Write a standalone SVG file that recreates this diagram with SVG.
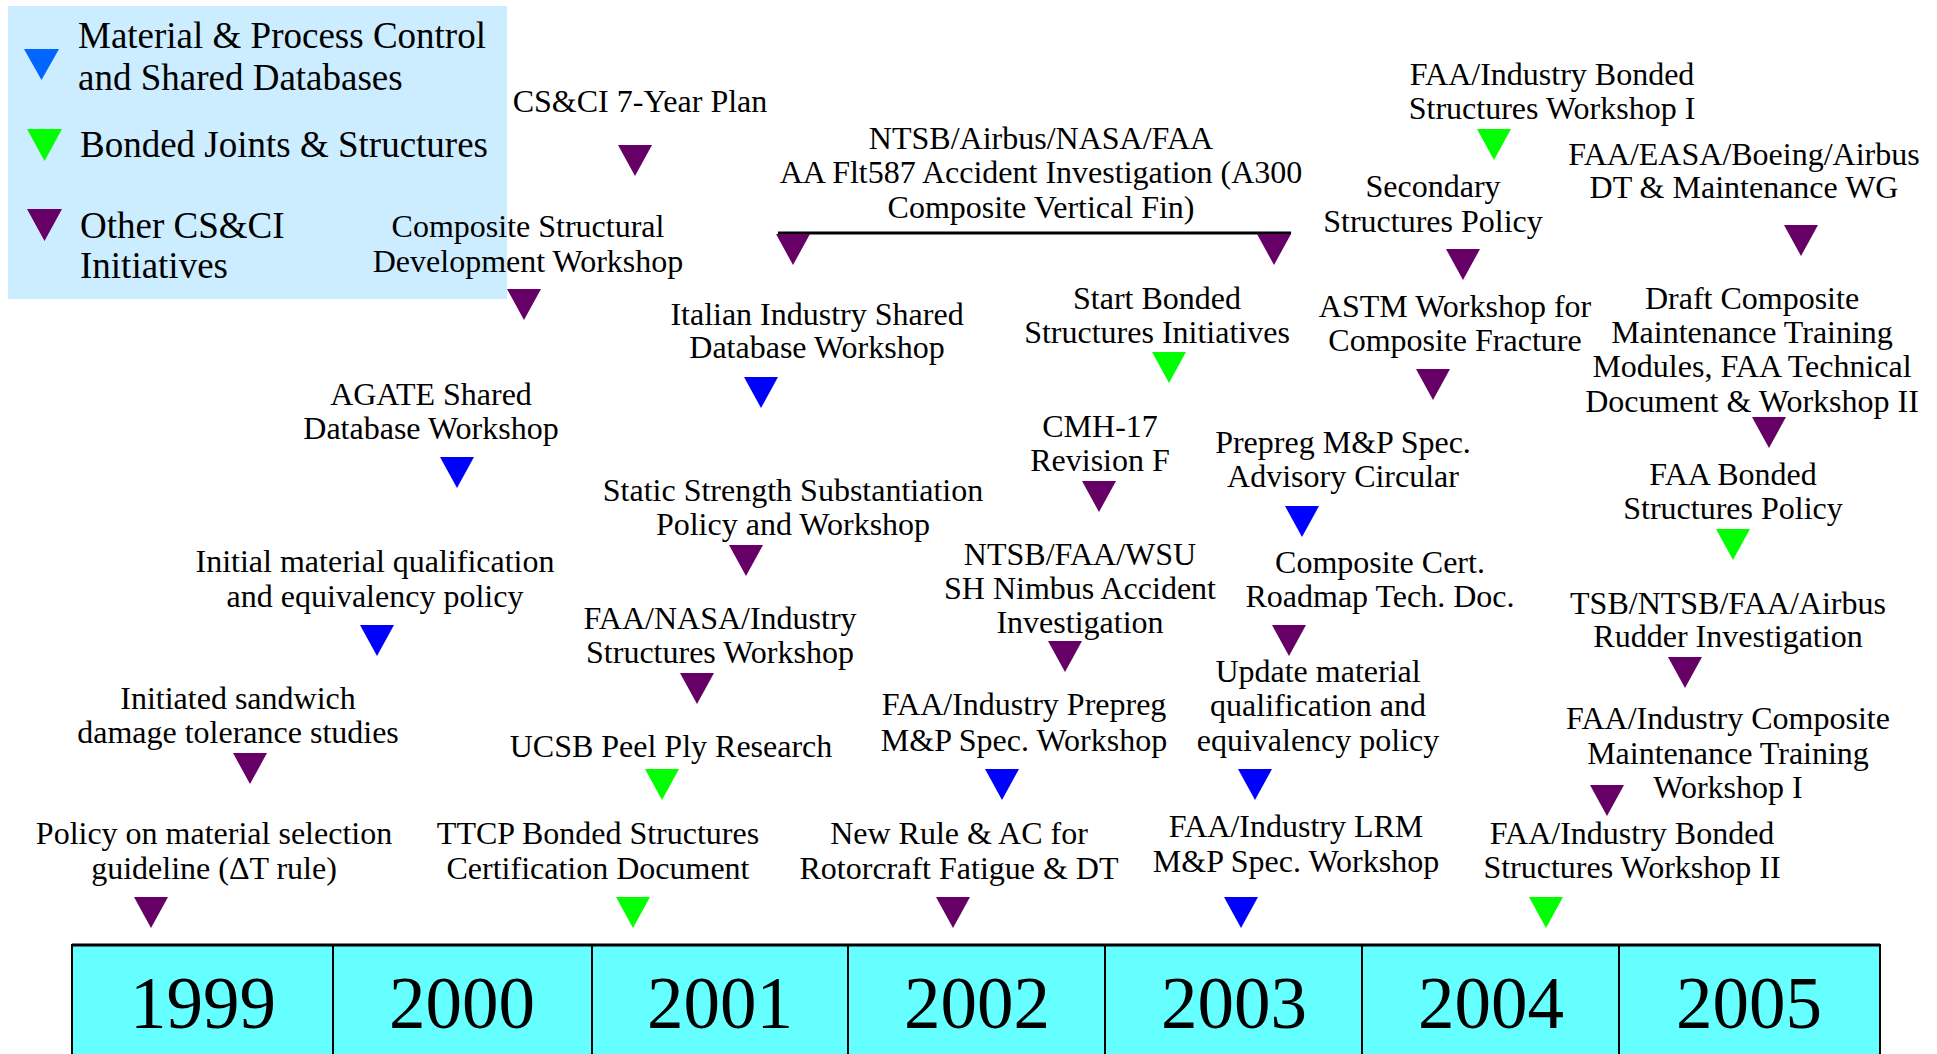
<svg xmlns="http://www.w3.org/2000/svg" width="1937" height="1054" viewBox="0 0 1937 1054">
<style>
text{font-family:"Liberation Serif","Times New Roman",serif;fill:#000}
.l{font-size:32px;text-anchor:middle}
.lg{font-size:37px}
.yr{font-size:73px;text-anchor:middle}
.p{fill:#660066}
.b{fill:#0000FF}
.g{fill:#00FF00}
.lb{fill:#0066FF}
.cell{fill:#66FFFF;stroke:#000;stroke-width:2}
</style>
<defs>
<path id="tri" d="M-17,0 L17,0 L0,31 Z"/>
</defs>
<rect width="1937" height="1054" fill="#fff"/>

<g id="legend">
<rect x="8" y="6" width="499" height="293" fill="#CCECFF"/>
<path class="lb" d="M24,49 L59,49 L41.5,80 Z"/>
<path class="g" d="M27,129 L62,129 L44.5,161 Z"/>
<path class="p" d="M27,209 L62,209 L44.5,241 Z"/>
<text class="lg" x="78" y="48">Material &amp; Process Control</text>
<text class="lg" x="78" y="90">and Shared Databases</text>
<text class="lg" x="80" y="157">Bonded Joints &amp; Structures</text>
<text class="lg" x="80" y="238">Other CS&amp;CI</text>
<text class="lg" x="80" y="278">Initiatives</text>
</g>

<g id="connectors">
<line x1="778" y1="233" x2="1291" y2="233" stroke="#000" stroke-width="3"/>
</g>

<g id="n-7year"><text class="l" x="640" y="112">CS&amp;CI 7-Year Plan</text><use href="#tri" class="p" x="635" y="145"/></g>
<g id="n-csdw"><text class="l" x="528" y="237">Composite Structural</text><text class="l" x="528" y="272">Development Workshop</text><use href="#tri" class="p" x="524" y="289"/></g>
<g id="n-aa587"><text class="l" x="1041" y="149">NTSB/Airbus/NASA/FAA</text><text class="l" x="1041" y="183">AA Flt587 Accident Investigation (A300</text><text class="l" x="1041" y="218">Composite Vertical Fin)</text><use href="#tri" class="p" x="793" y="234"/><use href="#tri" class="p" x="1274" y="234"/></g>
<g id="n-italian"><text class="l" x="817" y="325">Italian Industry Shared</text><text class="l" x="817" y="358">Database Workshop</text><use href="#tri" class="b" x="761" y="377"/></g>
<g id="n-agate"><text class="l" x="431" y="405">AGATE Shared</text><text class="l" x="431" y="439">Database Workshop</text><use href="#tri" class="b" x="457" y="457"/></g>
<g id="n-initial"><text class="l" x="375" y="572">Initial material qualification</text><text class="l" x="375" y="607">and equivalency policy</text><use href="#tri" class="b" x="377" y="625"/></g>
<g id="n-static"><text class="l" x="793" y="501">Static Strength Substantiation</text><text class="l" x="793" y="535">Policy and Workshop</text><use href="#tri" class="p" x="746" y="545"/></g>
<g id="n-cmh17"><text class="l" x="1100" y="437">CMH-17</text><text class="l" x="1100" y="471">Revision F</text><use href="#tri" class="p" x="1099" y="481"/></g>
<g id="n-nimbus"><text class="l" x="1080" y="565">NTSB/FAA/WSU</text><text class="l" x="1080" y="599">SH Nimbus Accident</text><text class="l" x="1080" y="633">Investigation</text><use href="#tri" class="p" x="1065" y="641"/></g>
<g id="n-fnasa"><text class="l" x="720" y="629">FAA/NASA/Industry</text><text class="l" x="720" y="663">Structures Workshop</text><use href="#tri" class="p" x="697" y="673"/></g>
<g id="n-sandwich"><text class="l" x="238" y="709">Initiated sandwich</text><text class="l" x="238" y="743">damage tolerance studies</text><use href="#tri" class="p" x="250" y="753"/></g>
<g id="n-ucsb"><text class="l" x="671" y="757">UCSB Peel Ply Research</text><use href="#tri" class="g" x="662" y="769"/></g>
<g id="n-prepregws"><text class="l" x="1024" y="715">FAA/Industry Prepreg</text><text class="l" x="1024" y="751">M&amp;P Spec. Workshop</text><use href="#tri" class="b" x="1002" y="769"/></g>
<g id="n-update"><text class="l" x="1318" y="682">Update material</text><text class="l" x="1318" y="716">qualification and</text><text class="l" x="1318" y="751">equivalency policy</text><use href="#tri" class="b" x="1255" y="769"/></g>
<g id="n-policy"><text class="l" x="214" y="844">Policy on material selection</text><text class="l" x="214" y="879">guideline (ΔT rule)</text><use href="#tri" class="p" x="151" y="897"/></g>
<g id="n-ttcp"><text class="l" x="598" y="844">TTCP Bonded Structures</text><text class="l" x="598" y="879">Certification Document</text><use href="#tri" class="g" x="633" y="897"/></g>
<g id="n-newrule"><text class="l" x="959" y="844">New Rule &amp; AC for</text><text class="l" x="959" y="879">Rotorcraft Fatigue &amp; DT</text><use href="#tri" class="p" x="953" y="897"/></g>
<g id="n-lrm"><text class="l" x="1296" y="837">FAA/Industry LRM</text><text class="l" x="1296" y="872">M&amp;P Spec. Workshop</text><use href="#tri" class="b" x="1241" y="897"/></g>
<g id="n-bonded2"><text class="l" x="1632" y="844">FAA/Industry Bonded</text><text class="l" x="1632" y="878">Structures Workshop II</text><use href="#tri" class="g" x="1546" y="897"/></g>
<g id="n-maint1"><text class="l" x="1728" y="729">FAA/Industry Composite</text><text class="l" x="1728" y="764">Maintenance Training</text><text class="l" x="1728" y="798">Workshop I</text><use href="#tri" class="p" x="1607" y="785"/></g>
<g id="n-rudder"><text class="l" x="1728" y="614">TSB/NTSB/FAA/Airbus</text><text class="l" x="1728" y="647">Rudder Investigation</text><use href="#tri" class="p" x="1685" y="657"/></g>
<g id="n-bpolicy"><text class="l" x="1733" y="485">FAA Bonded</text><text class="l" x="1733" y="519">Structures Policy</text><use href="#tri" class="g" x="1733" y="529"/></g>
<g id="n-roadmap"><text class="l" x="1380" y="573">Composite Cert.</text><text class="l" x="1380" y="607">Roadmap Tech. Doc.</text><use href="#tri" class="p" x="1289" y="625"/></g>
<g id="n-prepregac"><text class="l" x="1343" y="453">Prepreg M&amp;P Spec.</text><text class="l" x="1343" y="487">Advisory Circular</text><use href="#tri" class="b" x="1302" y="506"/></g>
<g id="n-draft"><text class="l" x="1752" y="309">Draft Composite</text><text class="l" x="1752" y="343">Maintenance Training</text><text class="l" x="1752" y="377">Modules, FAA Technical</text><text class="l" x="1752" y="412">Document &amp; Workshop II</text><use href="#tri" class="p" x="1769" y="417"/></g>
<g id="n-astm"><text class="l" x="1455" y="317">ASTM Workshop for</text><text class="l" x="1455" y="351">Composite Fracture</text><use href="#tri" class="p" x="1433" y="369"/></g>
<g id="n-startbonded"><text class="l" x="1157" y="309">Start Bonded</text><text class="l" x="1157" y="343">Structures Initiatives</text><use href="#tri" class="g" x="1169" y="352"/></g>
<g id="n-easa"><text class="l" x="1744" y="165">FAA/EASA/Boeing/Airbus</text><text class="l" x="1744" y="198">DT &amp; Maintenance WG</text><use href="#tri" class="p" x="1801" y="225"/></g>
<g id="n-bonded1"><text class="l" x="1552" y="85">FAA/Industry Bonded</text><text class="l" x="1552" y="119">Structures Workshop I</text><use href="#tri" class="g" x="1494" y="129"/></g>
<g id="n-secondary"><text class="l" x="1433" y="197">Secondary</text><text class="l" x="1433" y="232">Structures Policy</text><use href="#tri" class="p" x="1463" y="249"/></g>

<g id="years">
<rect class="cell" x="72" y="945" width="261" height="120"/>
<rect class="cell" x="333" y="945" width="259" height="120"/>
<rect class="cell" x="592" y="945" width="256" height="120"/>
<rect class="cell" x="848" y="945" width="257" height="120"/>
<rect class="cell" x="1105" y="945" width="257" height="120"/>
<rect class="cell" x="1362" y="945" width="257" height="120"/>
<rect class="cell" x="1619" y="945" width="261" height="120"/>
<line x1="72" y1="945" x2="1880" y2="945" stroke="#000" stroke-width="3"/>
<text class="yr" x="203" y="1028">1999</text>
<text class="yr" x="462" y="1028">2000</text>
<text class="yr" x="720" y="1028">2001</text>
<text class="yr" x="977" y="1028">2002</text>
<text class="yr" x="1234" y="1028">2003</text>
<text class="yr" x="1491" y="1028">2004</text>
<text class="yr" x="1749" y="1028">2005</text>
</g>
</svg>
